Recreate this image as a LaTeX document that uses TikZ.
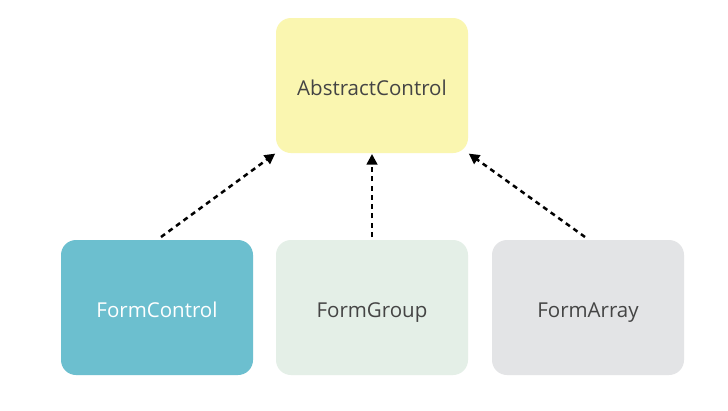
\documentclass[tikz,border=0pt]{standalone}
\usepackage{fontspec}
\setmainfont{Open Sans}
\usetikzlibrary{positioning}
\usetikzlibrary{arrows.meta}

\definecolor{acyellow}{HTML}{FAF6B0}
\definecolor{fcteal}{HTML}{6CBFCF}
\definecolor{fggreen}{HTML}{E4EFE7}
\definecolor{fagray}{HTML}{E3E4E6}
\definecolor{txtgray}{HTML}{444444}

\begin{document}
\begin{tikzpicture}[x=1pt,y=-1pt,
		cls/.style = {rectangle, rounded corners = 15pt, minimum width = 192pt, minimum height = 135pt, inner sep = 0pt, outer sep = 0pt, text = txtgray, text height = 22pt, text depth = 3pt, font = \fontsize{20.5}{24}\selectfont},
		inherit/.style = {line width = 2.5pt, dash pattern = on 5pt off 4.3pt, -{Triangle[length = 10.5pt, width = 10.5pt]}, shorten > = 1pt}]
		\useasboundingbox[fill = white] (0,0) rectangle (728,410);
		\node[cls, fill = acyellow] at (372,85.5) (ac) {AbstractControl};
		\node[cls, below = 87pt of ac, fill = fggreen] (fg) {FormGroup};
		\node[cls, left = 23pt of fg, fill = fcteal, text = white] (fc) {FormControl};
		\node[cls, right = 24pt of fg, fill = fagray] (fa) {FormArray};
		\coordinate[above = 3pt of fc.north, xshift = 4pt] (fctop);
		\coordinate[above = 3pt of fg.north] (fgtop);
		\coordinate[above = 3pt of fa.north, xshift = -3pt] (fatop);
		\draw[inherit] (fctop) -- (ac.south west);
		\draw[inherit] (fgtop) -- (ac.south);
		\draw[inherit] (fatop) -- (ac.south east);
	\end{tikzpicture}
\end{document}
